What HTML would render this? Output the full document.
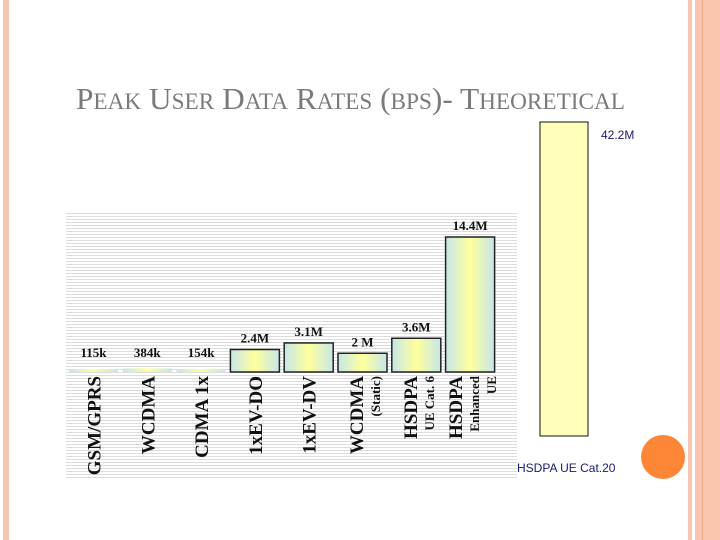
<!DOCTYPE html>
<html><head><meta charset="utf-8"><style>
html,body{margin:0;padding:0;background:#fff;width:720px;height:540px;overflow:hidden}
svg{display:block}
</style></head><body>
<svg width="720" height="540" viewBox="0 0 720 540" xmlns="http://www.w3.org/2000/svg">
<defs>
<linearGradient id="bg" x1="0" x2="1" y1="0" y2="0">
<stop offset="0" stop-color="#c6e6ea"/><stop offset="0.5" stop-color="#ffff9c"/><stop offset="1" stop-color="#c6e6ea"/>
</linearGradient>
<pattern id="grid" width="10" height="3" patternUnits="userSpaceOnUse">
<rect x="0" y="0" width="10" height="1" fill="#dcdcdc"/>
</pattern>
</defs>
<rect x="3" y="0" width="6" height="540" fill="#f7c6b2"/>
<g>
<rect x="688" y="0" width="32" height="540" fill="#f8c5ae"/>
<rect x="692" y="0" width="3" height="540" fill="#fff"/>
<rect x="702" y="0" width="1" height="540" fill="#eea98d"/>
</g>
<text x="76" y="109" font-family="Liberation Serif, serif" font-size="31" fill="#7a7a7a" textLength="549" lengthAdjust="spacingAndGlyphs">P<tspan font-size="23">EAK</tspan> U<tspan font-size="23">SER</tspan> D<tspan font-size="23">ATA</tspan> R<tspan font-size="23">ATES</tspan> (<tspan font-size="23">BPS</tspan>)- T<tspan font-size="23">HEORETICAL</tspan></text>
<rect x="66" y="212" width="451" height="268" fill="url(#grid)"/>
<g id="bars"></g>
<rect x="540" y="122" width="48" height="314" fill="#ffffb9" stroke="#111" stroke-width="1"/>
<text x="601" y="139" font-family="Liberation Sans, sans-serif" font-size="12" fill="#1a1a6e">42.2M</text>
<text x="517" y="472" font-family="Liberation Sans, sans-serif" font-size="12" fill="#1a1a6e">HSDPA UE Cat.20</text>
<circle cx="663" cy="457" r="22" fill="#fd8637"/>
<script>
const categories=["GSM/GPRS","WCDMA","CDMA 1x","1xEV-DO","1xEV-DV","WCDMA","HSDPA","HSDPA"];
const subLabels=[[],[],[],[],[],["(Static)"],["UE Cat. 6"],["Enhanced","UE"]];
const valuesM=[0.115,0.384,0.154,2.4,3.1,2.0,3.6,14.4];
const valueLabels=["115k","384k","154k","2.4M","3.1M","2 M","3.6M","14.4M"];
const NS="http://www.w3.org/2000/svg";
const g=document.getElementById('bars');
const baseY=372, x0=69, step=53.8, bw=49;
function xs(i){return x0+i*step;}
function ys(v){return baseY-v*(135/14.4);}
function mk(t,a){const e=document.createElementNS(NS,t);for(const k in a)e.setAttribute(k,a[k]);g.appendChild(e);return e;}
valuesM.forEach((v,i)=>{
  const x=xs(i), y=Math.min(ys(v),baseY-3);
  const small=v<1;
  const r=mk('rect',{x:x,y:y,width:bw,height:baseY-y,fill:'url(#bg)',stroke:small?'none':'#222','stroke-width':small?0:1.5});
  
  
  const t=mk('text',{x:x+bw/2,y:small?357:y-7,'text-anchor':'middle','font-family':'Liberation Serif, serif','font-size':13,'font-weight':'bold',fill:'#111'});
  t.textContent=valueLabels[i];
  
  
  const lines=[categories[i]].concat(subLabels[i]);
  const n=lines.length;
  lines.forEach((s,j)=>{
    const cx=x+bw/2+(j-(n-1)/2)*17+ (n>1?2:0);
    const c=mk('text',{transform:'translate('+(cx+7)+',376) rotate(-90)','text-anchor':'end','font-family':'Liberation Serif, serif','font-size':j===0?19:13,'font-weight':'bold',fill:'#111'});
    c.textContent=s;
    
    
  });
});
</script>
</svg>
</body></html>
